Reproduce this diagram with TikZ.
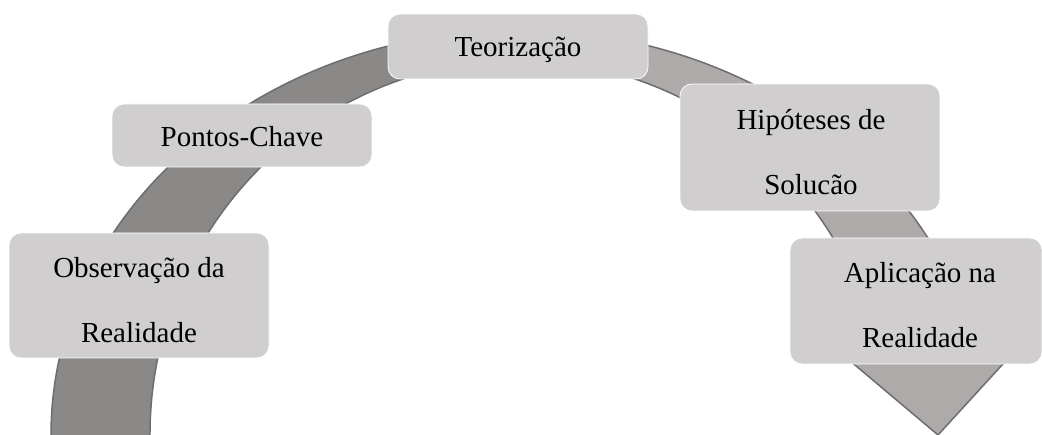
\documentclass[tikz,border=0pt]{standalone}
\usepackage{fontspec}
\setmainfont{Liberation Serif}
\definecolor{bandL}{HTML}{8B8987}
\definecolor{bandR}{HTML}{AEAAA9}
\definecolor{bandEdge}{HTML}{6E6D6D}
\definecolor{boxFill}{HTML}{D0CECF}
\begin{document}
\begin{tikzpicture}[x=1pt,y=1pt,
  boxnode/.style={rectangle, rounded corners=12pt, fill=boxFill, draw=white, line width=0.8pt, inner sep=0pt},
  lbl/.style={font=\fontsize{29}{35}\selectfont, anchor=base, inner sep=0pt, text=black}]
\useasboundingbox (0,0) rectangle (1042,435);
\clip (0,0) rectangle (1042,435);
\def\bandpath{(51,-10) -- (51,0) arc[start angle=180,end angle=10.67,x radius=468,y radius=405] -- (1006.6,75) -- (938,0) -- (849,75) -- (880.5,75) arc[start angle=11.54,end angle=180,x radius=369,y radius=375] -- (150,-10) -- cycle}
% band
\begin{scope}
  \clip (0,-20) rectangle (519,435);
  \fill[bandL] \bandpath;
\end{scope}
\begin{scope}
  \clip (519,-20) rectangle (1042,435);
  \fill[bandR] \bandpath;
\end{scope}
\draw[bandEdge, line width=1.5pt, line join=miter] \bandpath;
% boxes
\node[boxnode, minimum width=260pt, minimum height=125pt] (obs) at (139,139.5) {};
\node[boxnode, minimum width=260pt, minimum height=63pt] (pon) at (242,299.5) {};
\node[boxnode, minimum width=260pt, minimum height=65pt] (teo) at (518,388.5) {};
\node[boxnode, minimum width=260pt, minimum height=127pt] (hip) at (810,287.5) {};
\node[boxnode, minimum width=252pt, minimum height=126pt] (apl) at (916,134) {};
% labels
\node[lbl] (obs1) at (139,157) {Observação da};
\node[lbl] (obs2) at (139,92) {Realidade};
\node[lbl] (pon1) at (242,288) {Pontos-Chave};
\node[lbl] (teo1) at (518,378) {Teorização};
\node[lbl] (hip1) at (811,305) {Hipóteses de};
\node[lbl] (hip2) at (811,240) {Solucão};
\node[lbl] (apl1) at (920,152) {Aplicação na};
\node[lbl] (apl2) at (920,87) {Realidade};
\end{tikzpicture}
\end{document}
